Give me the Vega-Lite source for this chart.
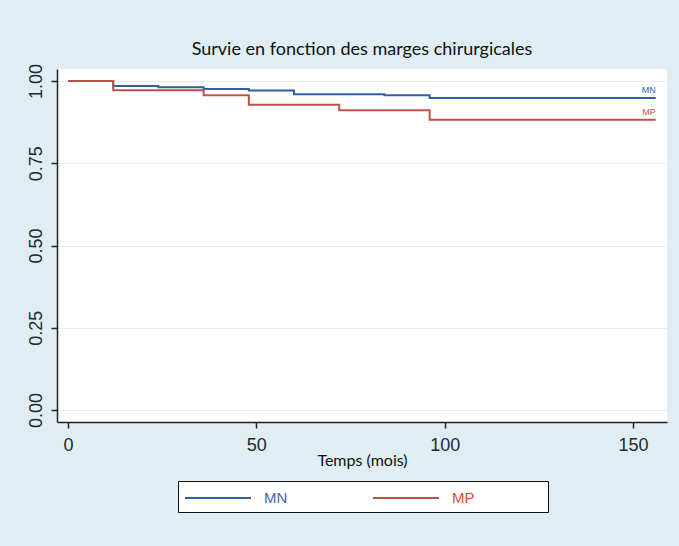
{
  "$schema": "https://vega.github.io/schema/vega-lite/v6.json",
  "width": 610,
  "height": 353,
  "autosize": {"type": "none"},
  "padding": {"left": 57, "top": 69, "right": 12, "bottom": 124},
  "background": "#e0eef3",
  "title": {
    "text": "Survie en fonction des marges chirurgicales",
    "font": "Lato",
    "fontSize": 18,
    "fontWeight": "normal",
    "color": "#111111",
    "anchor": "middle",
    "offset": 4
  },
  "datasets": {
    "km": [
      {"t": 0, "s": 1.0, "g": "MN"},
      {"t": 12, "s": 0.985, "g": "MN"},
      {"t": 24, "s": 0.981, "g": "MN"},
      {"t": 36, "s": 0.976, "g": "MN"},
      {"t": 48, "s": 0.971, "g": "MN"},
      {"t": 60, "s": 0.960, "g": "MN"},
      {"t": 84, "s": 0.957, "g": "MN"},
      {"t": 96, "s": 0.948, "g": "MN"},
      {"t": 156, "s": 0.948, "g": "MN"},
      {"t": 0, "s": 1.0, "g": "MP"},
      {"t": 12, "s": 0.972, "g": "MP"},
      {"t": 36, "s": 0.957, "g": "MP"},
      {"t": 48, "s": 0.928, "g": "MP"},
      {"t": 72, "s": 0.911, "g": "MP"},
      {"t": 96, "s": 0.882, "g": "MP"},
      {"t": 156, "s": 0.882, "g": "MP"}
    ],
    "ends": [
      {"t": 156, "s": 0.948, "g": "MN"},
      {"t": 156, "s": 0.882, "g": "MP"}
    ]
  },
  "layer": [
    {
      "data": {"name": "km"},
      "mark": {"type": "line", "interpolate": "step-after", "strokeWidth": 2},
      "encoding": {
        "x": {
          "field": "t", "type": "quantitative",
          "scale": {"domain": [-2.92, 159], "nice": false, "zero": false},
          "axis": {
            "values": [0, 50, 100, 150],
            "title": "Temps (mois)",
            "grid": false,
            "domainColor": "#222222",
            "domainWidth": 1.5,
            "tickColor": "#222222",
            "tickWidth": 1.5,
            "tickSize": 6,
            "labelFont": "Liberation Sans Narrow, Liberation Sans",
            "labelFontSize": 18,
            "labelColor": "#222a33",
            "labelPadding": 8,
            "titleFont": "Lato",
            "titleFontSize": 16,
            "titleFontWeight": "normal",
            "titleColor": "#111111",
            "titlePadding": -2
          }
        },
        "y": {
          "field": "s", "type": "quantitative",
          "scale": {"domain": [-0.0365, 1.0365], "nice": false, "zero": false},
          "axis": {
            "values": [0, 0.25, 0.5, 0.75, 1],
            "format": ".2f",
            "title": null,
            "grid": true,
            "gridColor": "#e4eef3",
            "gridWidth": 1,
            "domainColor": "#222222",
            "domainWidth": 1.5,
            "tickColor": "#222222",
            "tickWidth": 1.5,
            "tickSize": 6,
            "labelAngle": -90,
            "labelFont": "Liberation Sans Narrow, Liberation Sans",
            "labelFontSize": 18,
            "labelColor": "#222a33",
            "labelPadding": 6
          }
        },
        "color": {
          "field": "g", "type": "nominal",
          "scale": {"domain": ["MN", "MP"], "range": ["#2f5f9e", "#c0504a"]},
          "legend": {
            "orient": "none",
            "legendX": 121,
            "legendY": 412,
            "direction": "horizontal",
            "title": null,
            "fillColor": "#ffffff",
            "strokeColor": "#111111",
            "padding": 6,
            "symbolType": "M-1,0H5.6",
            "symbolSize": 400,
            "symbolStrokeWidth": 2,
            "labelOffset": 58,
            "columnPadding": 81,
            "labelFont": "Liberation Sans Narrow, Liberation Sans",
            "labelFontSize": 15,
            "labelExpr": "datum.label == 'MP' ? 'MP\u00a0\u00a0\u00a0\u00a0\u00a0\u00a0\u00a0\u00a0\u00a0\u00a0\u00a0\u00a0\u00a0\u00a0\u00a0\u00a0\u200b' : datum.label",
            "encode": {
              "labels": {
                "update": {
                  "fill": {"signal": "datum.value == 'MN' ? '#4a60b4' : '#e8453c'"}
                }
              }
            }
          }
        }
      }
    },
    {
      "data": {"name": "ends"},
      "mark": {"type": "text", "align": "right", "baseline": "bottom", "dy": -3, "fontSize": 9, "font": "Liberation Sans"},
      "encoding": {
        "x": {"field": "t", "type": "quantitative"},
        "y": {"field": "s", "type": "quantitative"},
        "text": {"field": "g"},
        "color": {"field": "g", "type": "nominal", "scale": {"domain": ["MN", "MP"], "range": ["#4a60b4", "#e8453c"]}, "legend": null}
      }
    }
  ],
  "config": {
    "view": {"fill": "#ffffff", "stroke": null}
  }
}
